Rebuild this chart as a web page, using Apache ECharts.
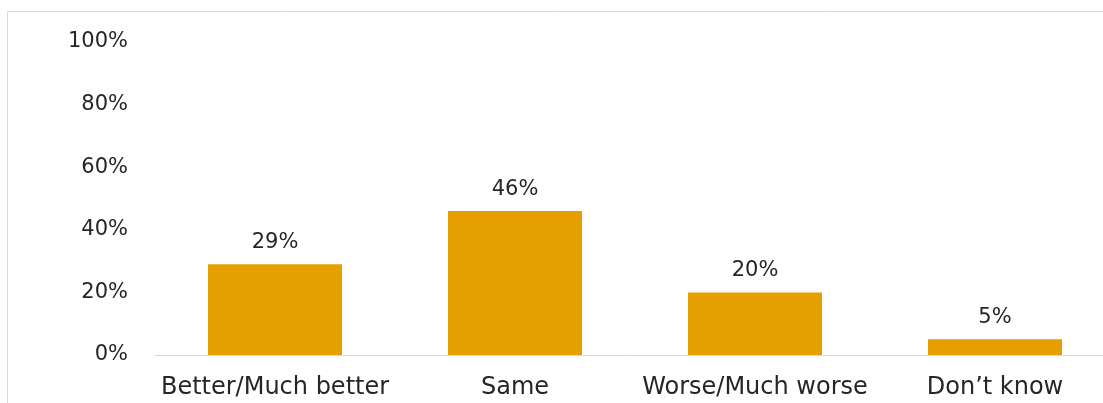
<!DOCTYPE html>
<html><head><meta charset="utf-8">
<script src="https://cdn.jsdelivr.net/npm/echarts@6/dist/echarts.min.js"></script>
<style>html,body{margin:0;padding:0;background:#fff}#c{width:1103px;height:403px}</style>
</head><body><div id="c"></div>
<script>
const categories = ["Better/Much better", "Same", "Worse/Much worse", "Don\u2019t know"];
const values = [29, 46, 20, 5];
const yTicks = [0, 20, 40, 60, 80, 100];
const font = "'Century Gothic', 'URW Gothic', 'DejaVu Sans', sans-serif";
const chart = echarts.init(document.getElementById('c'));
chart.setOption({
  animation: false,
  textStyle: {fontFamily: font},
  graphic: [{type: 'rect', shape: {x: 7.5, y: 11.5, width: 1200, height: 500},
    style: {fill: 'none', stroke: '#d9d9d9', lineWidth: 1}, silent: true, z: -1}],
  grid: {left: 155, width: 960, top: 42, bottom: 48, containLabel: false, outerBoundsMode: 'none'},
  xAxis: {type: 'category', data: categories,
    axisLine: {lineStyle: {color: '#d9d9d9', width: 1}}, axisTick: {show: false},
    axisLabel: {color: '#262626', fontSize: 24, margin: 21, interval: 0, fontFamily: font}},
  yAxis: {type: 'value', min: yTicks[0], max: yTicks[yTicks.length-1], interval: 20,
    axisLine: {show: false}, axisTick: {show: false}, splitLine: {show: false},
    axisLabel: {color: '#262626', fontSize: 21, margin: 27, formatter: '{value}%', fontFamily: font}},
  series: [{type: 'bar', data: values, barWidth: 134,
    itemStyle: {color: '#E69F00'},
    label: {show: true, position: 'top', distance: 11, formatter: '{c}%', color: '#262626', fontSize: 21, fontFamily: font}}]
});
</script></body></html>
